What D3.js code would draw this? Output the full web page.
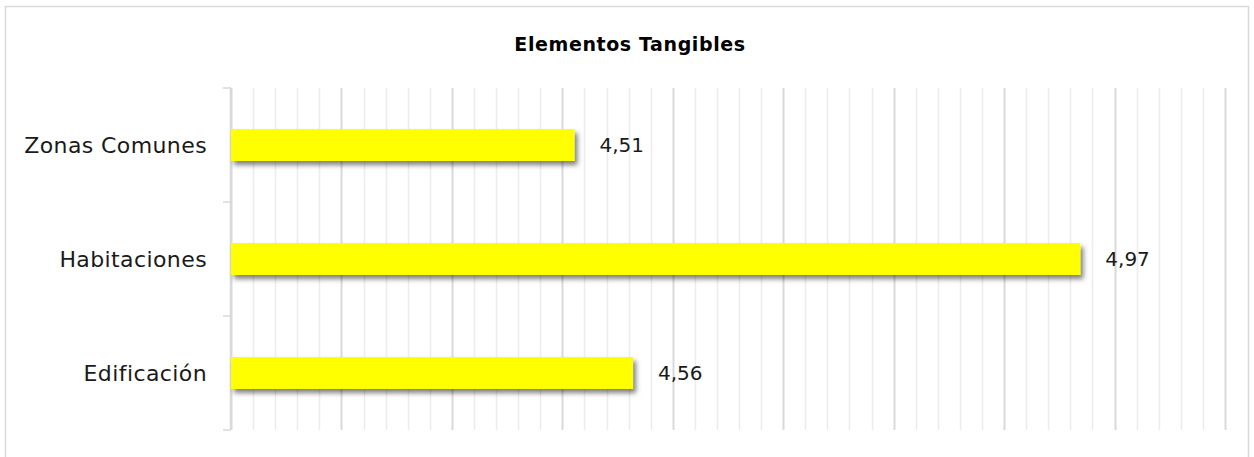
<!DOCTYPE html>
<html>
<head>
<meta charset="utf-8">
<script src="https://cdn.jsdelivr.net/npm/d3@7"></script>
<title>Elementos Tangibles</title>
<style>
body { margin: 0; background: #fff; }
text { font-family: "DejaVu Sans", sans-serif; }
.grid line { stroke: #ececec; stroke-width: 1.5px; }
.grid line.major { stroke: #d9d9d9; stroke-width: 2px; }
.yaxis path, .yaxis line { stroke: #d9d9d9; stroke-width: 1.5px; }
</style>
</head>
<body>
<svg class="chart"></svg>
<script>
// datos
const categorias = ["Zonas Comunes", "Habitaciones", "Edificación"]
const valores = [4.511, 4.969, 4.564]
const titulo = "Elementos Tangibles"
const xDominio = [4.2, 5.1]

const w = 1254, h = 457
const margin = {top: 88, right: 29, bottom: 27, left: 231}

const svg = d3.select(".chart").attr("width", w).attr("height", h)

// marco
svg.append("rect")
    .attr("x", 5.5).attr("y", 6.5)
    .attr("width", 1243).attr("height", 460)
    .attr("fill", "none").attr("stroke", "#d9d9d9").attr("stroke-width", 1.5)

svg.append("text")
    .attr("x", 630).attr("y", 51)
    .attr("text-anchor", "middle")
    .style("font-size", "19px").style("font-weight", "bold")
    .style("letter-spacing", "0.6px")
    .text(titulo)

let defs = svg.append("defs")
let f = defs.append("filter").attr("id", "sombra")
    .attr("x", "-5%").attr("y", "-30%").attr("width", "115%").attr("height", "180%")
f.append("feDropShadow")
    .attr("dx", 3).attr("dy", 4).attr("stdDeviation", 2.8)
    .attr("flood-color", "#000").attr("flood-opacity", 0.5)

let xScale = d3.scaleLinear().domain(xDominio).range([margin.left, w - margin.right])
let yScale = d3.scaleBand().domain(categorias).range([margin.top, h - margin.bottom]).paddingInner(0.72).paddingOuter(0.36)

// lineas de cuadricula
let menores = d3.range(0, 46).map(i => xDominio[0] + i * 0.02)
let grid = svg.append("g").classed("grid", true)
grid.selectAll("line").data(menores).enter().append("line")
    .attr("x1", d => Math.round(xScale(d)) + 0.5)
    .attr("x2", d => Math.round(xScale(d)) + 0.5)
    .attr("y1", margin.top).attr("y2", h - margin.bottom)
    .classed("major", (d, i) => i % 5 === 0)

// eje y con marcas entre categorias
let yAxis = svg.append("g").classed("yaxis", true)
yAxis.append("line")
    .attr("x1", margin.left - 0.5).attr("x2", margin.left - 0.5)
    .attr("y1", margin.top).attr("y2", h - margin.bottom)
let bordes = d3.range(0, categorias.length + 1).map(i => margin.top + i * (h - margin.bottom - margin.top) / categorias.length)
yAxis.selectAll("line.tick").data(bordes).enter().append("line").classed("tick", true)
    .attr("x1", margin.left - 8).attr("x2", margin.left)
    .attr("y1", d => d).attr("y2", d => d)

svg.append("g").selectAll("text").data(categorias).enter().append("text")
    .attr("x", margin.left - 24)
    .attr("y", d => yScale(d) + yScale.bandwidth() / 2)
    .attr("dy", "0.35em")
    .attr("text-anchor", "end")
    .style("font-size", "22px").style("fill", "#1a1a1a")
    .style("letter-spacing", "0.4px")
    .text(d => d)

// barras
let datos = categorias.map((c, i) => ({cat: c, val: valores[i]}))
svg.append("g").selectAll("rect").data(datos).enter().append("rect")
    .attr("x", xScale(xDominio[0]))
    .attr("y", d => yScale(d.cat))
    .attr("width", d => xScale(d.val) - xScale(xDominio[0]))
    .attr("height", yScale.bandwidth())
    .attr("fill", "#ffff00")
    .attr("filter", "url(#sombra)")

svg.append("g").selectAll("text").data(datos).enter().append("text")
    .attr("x", d => xScale(d.val) + 25)
    .attr("y", d => yScale(d.cat) + yScale.bandwidth() / 2)
    .attr("dy", "0.35em")
    .style("font-size", "20px").style("fill", "#1a1a1a")
    .text(d => d3.format(".2f")(d.val).replace(".", ","))
</script>
</body>
</html>
